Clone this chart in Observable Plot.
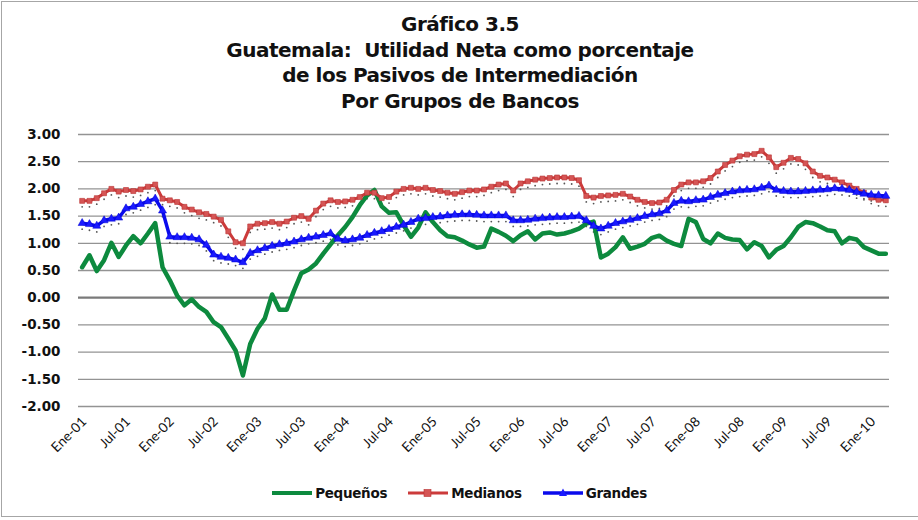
<!DOCTYPE html>
<html>
<head>
<meta charset="utf-8">
<script src="https://cdn.jsdelivr.net/npm/d3@7"></script>
<script src="https://cdn.jsdelivr.net/npm/@observablehq/plot@0.6"></script>
<style>
  html, body { margin: 0; padding: 0; background: #fff; }
  #wrap { position: relative; width: 918px; height: 520px; overflow: hidden; background: #fff; }
  #frame { position: absolute; left: 1px; top: 1px; width: 930px; height: 516px; border: 1.5px solid #a6a6a6; box-sizing: border-box; }
  #title { position: absolute; top: 12px; left: 0; width: 920px; text-align: center; font-family: "DejaVu Sans", sans-serif; font-weight: bold; font-size: 20px; line-height: 25.7px; color: #111; letter-spacing: -0.5px; }
  #chart { position: absolute; top: 120px; left: 0; }
  #legend { position: absolute; top: 485px; left: 0; width: 918px; display: flex; justify-content: center; align-items: center; font-family: "DejaVu Sans", sans-serif; font-weight: bold; font-size: 13.5px; color: #111; letter-spacing: -0.3px; }
  .item { display: flex; align-items: center; margin: 0 10px; }
  .item svg { margin-right: 2px; }
</style>
</head>
<body>
<div id="wrap">
  <div id="frame"></div>
  <div id="title">Gráfico 3.5<br>Guatemala:&nbsp; Utilidad Neta como porcentaje<br>de los Pasivos de Intermediación<br>Por Grupos de Bancos</div>
  <div id="chart"></div>
  <div id="legend"></div>
</div>
<script>
// Months: Ene-01 ... Mar-10 (111 monthly observations)
const monthNames = ["Ene","Feb","Mar","Abr","May","Jun","Jul","Ago","Sep","Oct","Nov","Dic"];
const startYear = 2001;
const nMonths = 111;
const months = Array.from({length: nMonths}, (_, i) =>
  monthNames[i % 12] + "-" + String((startYear + Math.floor(i / 12)) % 100).padStart(2, "0"));

// Tick labels shown on the axis (every six months)
const tickLabels = ["Ene-01","Jul-01","Ene-02","Jul-02","Ene-03","Jul-03","Ene-04","Jul-04","Ene-05","Jul-05",
  "Ene-06","Jul-06","Ene-07","Jul-07","Ene-08","Jul-08","Ene-09","Jul-09","Ene-10"];
const yTicks = [-2, -1.5, -1, -0.5, 0, 0.5, 1, 1.5, 2, 2.5, 3];

const series = ["Pequeños", "Medianos", "Grandes"];

const pequenos = [
  0.56,0.78,0.49,0.69,1.01,0.75,0.96,1.13,1.00,1.18,1.37,0.56,
  0.32,0.04,-0.14,-0.03,-0.17,-0.26,-0.45,-0.54,-0.75,-0.97,-1.43,-0.85,
  -0.57,-0.38,0.06,-0.22,-0.22,0.13,0.45,0.52,0.63,0.81,0.98,1.15,
  1.30,1.48,1.70,1.88,1.98,1.68,1.56,1.57,1.33,1.12,1.29,1.57,
  1.39,1.24,1.13,1.11,1.05,0.98,0.92,0.94,1.27,1.21,1.14,1.04,
  1.15,1.22,1.07,1.18,1.20,1.16,1.18,1.22,1.27,1.36,1.40,0.74,
  0.81,0.93,1.11,0.90,0.94,0.99,1.10,1.14,1.05,0.99,0.95,1.45,
  1.39,1.08,1.00,1.18,1.10,1.07,1.06,0.89,1.02,0.95,0.74,0.88,
  0.95,1.11,1.30,1.39,1.37,1.31,1.24,1.22,1.00,1.10,1.07,0.93,
  0.87,0.81,0.81
];

const medianos = [
  1.78,1.78,1.83,1.92,2.00,1.95,1.98,1.96,1.99,2.04,2.08,1.82,
  1.79,1.76,1.67,1.62,1.57,1.54,1.49,1.43,1.22,1.02,1.00,1.31,
  1.36,1.37,1.39,1.36,1.40,1.47,1.50,1.45,1.60,1.73,1.79,1.76,
  1.77,1.80,1.85,1.93,1.93,1.83,1.85,1.95,2.00,2.02,2.00,2.02,
  1.98,1.96,1.93,1.91,1.94,1.97,1.97,1.99,2.04,2.08,2.10,1.97,
  2.10,2.14,2.17,2.19,2.20,2.21,2.21,2.20,2.16,1.87,1.84,1.87,
  1.88,1.89,1.91,1.86,1.80,1.76,1.74,1.75,1.80,1.98,2.08,2.12,
  2.12,2.14,2.20,2.32,2.44,2.52,2.60,2.63,2.64,2.70,2.58,2.40,
  2.48,2.57,2.55,2.47,2.32,2.24,2.21,2.17,2.12,2.06,2.00,1.93,
  1.84,1.80,1.79
];

const grandes = [
  1.37,1.35,1.32,1.42,1.45,1.47,1.64,1.67,1.72,1.77,1.82,1.60,
  1.12,1.11,1.11,1.10,1.07,0.97,0.79,0.75,0.73,0.70,0.65,0.82,
  0.87,0.91,0.95,0.98,1.00,1.03,1.07,1.10,1.12,1.15,1.18,1.08,
  1.05,1.07,1.10,1.15,1.19,1.22,1.26,1.30,1.34,1.39,1.45,1.46,
  1.48,1.49,1.51,1.52,1.53,1.53,1.52,1.51,1.51,1.51,1.51,1.42,
  1.42,1.43,1.45,1.46,1.47,1.48,1.48,1.49,1.50,1.42,1.32,1.27,
  1.32,1.37,1.40,1.43,1.46,1.50,1.53,1.55,1.60,1.74,1.78,1.77,
  1.79,1.80,1.85,1.89,1.92,1.95,1.97,1.98,1.99,2.02,2.06,1.98,
  1.96,1.95,1.95,1.96,1.97,1.98,1.99,2.01,2.00,1.98,1.94,1.91,
  1.89,1.88,1.87
];

const colors = {"Pequeños": "#0d8a3e", "Medianos": "#cc3b3b", "Grandes": "#0a0aec"};

const rows = [];
months.forEach((m, i) => {
  rows.push({i, month: m, serie: "Pequeños", v: pequenos[i]});
  rows.push({i, month: m, serie: "Medianos", v: medianos[i]});
  rows.push({i, month: m, serie: "Grandes", v: grandes[i]});
});
const med = rows.filter(d => d.serie === "Medianos");
const gra = rows.filter(d => d.serie === "Grandes");
const peq = rows.filter(d => d.serie === "Pequeños");
const tickIdx = tickLabels.map(l => months.indexOf(l));

const chart = Plot.plot({
  width: 918,
  height: 360,
  marginLeft: 78,
  marginRight: 29,
  marginTop: 14,
  marginBottom: 74,
  style: {background: "transparent"},
  x: {domain: [-0.5, nMonths - 0.5], label: null},
  y: {domain: [-2, 3], label: null},
  marks: [
    Plot.ruleY(yTicks.filter(t => t !== 0), {stroke: "#939393", strokeWidth: 1.3}),
    Plot.ruleY([0], {stroke: "#7a7a7a", strokeWidth: 2.2}),
    Plot.axisY({ticks: yTicks, tickSize: 0, tickPadding: 18, tickFormat: d => d.toFixed(2), label: null,
      fontSize: 13.5, fontWeight: "bold", fontFamily: "DejaVu Sans", fill: "#111"}),
    Plot.axisX({ticks: tickIdx, tickSize: 0, tickPadding: 13, tickRotate: -45, label: null,
      tickFormat: i => months[i], fontSize: 13.5, fontFamily: "Lato", fill: "#111", dx: 2}),
    // shadow dots under the marker lines
    Plot.dot(med, {x: "i", y: "v", r: 0.9, fill: "#555", dy: 6}),
    Plot.dot(gra, {x: "i", y: "v", r: 0.9, fill: "#555", dy: 6}),
    Plot.line(peq, {x: "i", y: "v", stroke: colors["Pequeños"], strokeWidth: 4.5, strokeLinejoin: "round"}),
    Plot.line(med, {x: "i", y: "v", stroke: colors["Medianos"], strokeWidth: 3, strokeLinejoin: "round"}),
    Plot.dot(med, {x: "i", y: "v", symbol: "square", r: 2.8, fill: "#d65555", stroke: "#b83232", strokeWidth: 0.6}),
    Plot.line(gra, {x: "i", y: "v", stroke: colors["Grandes"], strokeWidth: 3.5, strokeLinejoin: "round"}),
    Plot.dot(gra, {x: "i", y: "v", symbol: "triangle", r: 3, fill: "#1a1aff", stroke: "#0000d0", strokeWidth: 0.5})
  ]
});
document.getElementById("chart").appendChild(chart);

// Legend
const legend = document.getElementById("legend");
const swatch = {
  "Pequeños": `<svg width="42" height="12"><line x1="1" y1="6" x2="41" y2="6" stroke="${colors["Pequeños"]}" stroke-width="4"/></svg>`,
  "Medianos": `<svg width="42" height="12"><line x1="1" y1="6" x2="41" y2="6" stroke="${colors["Medianos"]}" stroke-width="3"/><rect x="17" y="2.5" width="7" height="7" fill="#d65555" stroke="#b83232" stroke-width="0.6"/></svg>`,
  "Grandes": `<svg width="42" height="12"><line x1="1" y1="6" x2="41" y2="6" stroke="${colors["Grandes"]}" stroke-width="3.5"/><path d="M21,1.5 L25,9 L17,9 Z" fill="#1a1aff"/></svg>`
};
series.forEach(s => {
  const el = document.createElement("div");
  el.className = "item";
  el.innerHTML = swatch[s] + `<span>${s}</span>`;
  legend.appendChild(el);
});
</script>
</body>
</html>
